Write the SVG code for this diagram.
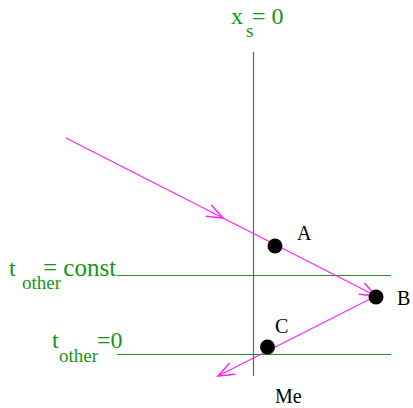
<svg xmlns="http://www.w3.org/2000/svg" width="413" height="408" viewBox="0 0 413 408">
<style>
.g{fill:#149614}
.k{fill:#000}
.gl{stroke:#2b8b2b;stroke-width:1.2;fill:none}
.m{stroke:#ff22ff;stroke-width:1.2;fill:none}
</style>
<defs>
<marker id="v" markerUnits="userSpaceOnUse" markerWidth="20" markerHeight="20" viewBox="-14 -8 16 16" refX="0" refY="0" orient="auto">
<path d="M-13,-5 L0,0 L-13,5" stroke="#ff22ff" stroke-width="1.2" fill="none"/>
</marker>
</defs>
<g id="axes">
<line class="gl" x1="253.5" y1="52" x2="253.5" y2="376"/>
<line class="gl" x1="117" y1="275.5" x2="391" y2="275.5"/>
<line class="gl" x1="117" y1="354.5" x2="391" y2="354.5"/>
</g>
<g id="labels">
<text class="g" x="231" y="24" font-family="Liberation Serif" font-size="24">x</text>
<text class="g" x="246" y="37" font-family="Liberation Serif" font-size="19">s</text>
<text class="g" x="252" y="24" font-family="Liberation Serif" font-size="24">= 0</text>
<text class="g" x="9" y="276" font-family="Liberation Serif" font-size="24">t</text>
<text class="g" x="22" y="289" font-family="Liberation Serif" font-size="19">other</text>
<text class="g" x="43" y="276" font-family="Liberation Serif" font-size="25">= const</text>
<text class="g" x="52" y="348" font-family="Liberation Serif" font-size="24">t</text>
<text class="g" x="59" y="361.5" font-family="Liberation Serif" font-size="19">other</text>
<text class="g" x="97" y="348" font-family="Liberation Serif" font-size="24">=0</text>
</g>
<g id="connectors">
<path class="m" d="M66,138 L223,218" marker-end="url(#v)"/>
<path class="m" d="M223,218 L376,296" marker-end="url(#v)"/>
<path class="m" d="M376,296 L218,376" marker-end="url(#v)"/>
</g>
<g id="A"><circle cx="275" cy="246" r="7.5"/><text class="k" x="297" y="240" font-family="Liberation Serif" font-size="20">A</text></g>
<g id="B"><circle cx="376" cy="297" r="7.5"/><text class="k" x="397" y="305" font-family="Liberation Serif" font-size="20">B</text></g>
<g id="C"><circle cx="267.5" cy="347" r="7.5"/><text class="k" x="275" y="333" font-family="Liberation Serif" font-size="20">C</text></g>
<g id="Me"><text class="k" x="275" y="403" font-family="Liberation Serif" font-size="20">Me</text></g>
</svg>
